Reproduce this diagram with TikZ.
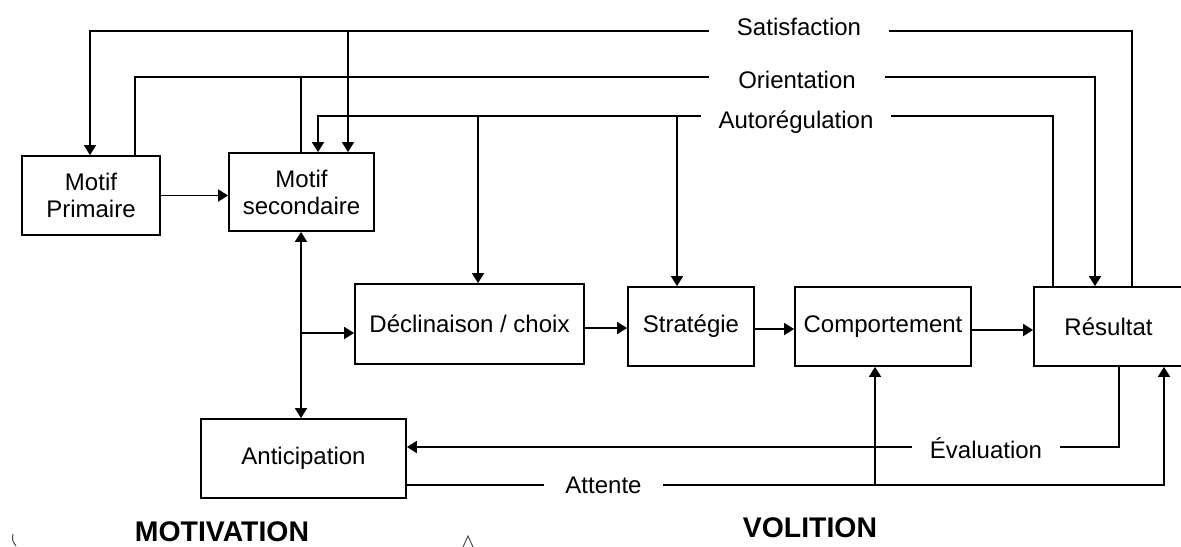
\documentclass[tikz,border=0pt]{standalone}
\usepackage{fontspec}
\setmainfont{Liberation Sans}
\usetikzlibrary{arrows.meta,calc}
\begin{document}
\begin{tikzpicture}[x=0.5pt,y=-0.5pt,
  box/.style={draw,line width=0.9pt,inner sep=0pt,align=center,font=\fontsize{12}{13.5}\selectfont},
  conn/.style={line width=0.9pt},
  arr/.style={conn,-{Triangle[length=5pt,width=6pt]}},
  darr/.style={conn,{Triangle[length=5pt,width=6pt]}-{Triangle[length=5pt,width=6pt]}},
  lbl/.style={fill=white,inner ysep=1pt,anchor=base,font=\fontsize{12}{13.5}\selectfont},
  ttl/.style={anchor=base,font=\fontsize{14.2}{17}\selectfont\bfseries}]
\useasboundingbox (0,0) rectangle (1181,546);
\clip (0,0) rectangle (1181,546);

% boxes
\node[box,minimum width=69pt,minimum height=39.5pt] (MP) at (91,195.5) {Motif\\Primaire};
\node[box,minimum width=72.5pt,minimum height=39pt] (MS) at (301.5,192) {Motif\\secondaire};
\node[box,minimum width=114.5pt,minimum height=40pt] (DC) at (469.5,324) {Déclinaison / choix};
\node[box,minimum width=63pt,minimum height=39.5pt] (ST) at (691,326.5) {Stratégie};
\node[box,minimum width=88pt,minimum height=39.5pt] (CO) at (883,326.5) {Comportement};
\node[box,minimum width=74.5pt,minimum height=39.5pt] (RE) at (1108.5,326.5) {Résultat};
\node[box,minimum width=102.5pt,minimum height=39.5pt] (AN) at (303.5,458.5) {Anticipation};

% routing coordinates
\coordinate (sR) at (1132,31); \coordinate (sMP) at (90,31); \coordinate (sMS) at (348,31);
\coordinate (oMP) at (135,77); \coordinate (oMS) at (301,77); \coordinate (oR) at (1095,77);
\coordinate (aR) at (1053,116); \coordinate (aMS) at (318,116);
\coordinate (aDC) at (478,116); \coordinate (aST) at (677,116);
\coordinate (v) at (301,333);
\coordinate (f1) at (0,328); \coordinate (f2) at (0,329); \coordinate (f3) at (0,330);
\coordinate (e) at (1119,447);
\coordinate (t) at (1164,485); \coordinate (tC) at (875,485);

% connectors
\draw[arr] (MP.east) -- (MP.east -| MS.west);
\draw[arr] (sR |- RE.north) -- (sR) -- (sMP) -- (sMP |- MP.north);
\draw[arr] (sMS) -- (sMS |- MS.north);
\draw[arr] (oMP |- MP.north) -- (oMP) -- (oR) -- (oR |- RE.north);
\draw[conn] (oMS |- MS.north) -- (oMS);
\draw[arr] (aR |- RE.north) -- (aR) -- (aMS) -- (aMS |- MS.north);
\draw[arr] (aDC) -- (aDC |- DC.north);
\draw[arr] (aST) -- (aST |- ST.north);
\draw[darr] (v |- MS.south) -- (v |- AN.north);
\draw[arr] (v) -- (v -| DC.west);
\draw[arr] (DC.east |- f1) -- (ST.west |- f1);
\draw[arr] (ST.east |- f2) -- (CO.west |- f2);
\draw[arr] (CO.east |- f3) -- (RE.west |- f3);
\draw[arr] (e |- RE.south) -- (e) -- (e -| AN.east);
\draw[arr] (t -| AN.east) -- (t) -- (t |- RE.south);
\draw[arr] (tC) -- (tC |- CO.south);

% labels
\node[lbl,inner xsep=14pt] (lsat) at (799,35) {Satisfaction};
\node[lbl,inner xsep=14.5pt] (lori) at (797,88) {Orientation};
\node[lbl,inner xsep=9pt] (laut) at (796,128) {Autorégulation};
\node[lbl,inner xsep=9pt] (leva) at (986,458) {Évaluation};
\node[lbl,inner xsep=10.5pt] (latt) at (603.5,493) {Attente};

\node[ttl] (mot) at (222,541) {MOTIVATION};
\node[ttl] (vol) at (810,537) {VOLITION};

% stray fragments at the bottom edge
\draw[line width=0.5pt,black!70] (13,534) .. controls (12,540) .. (16,546);
\draw[line width=0.5pt,black!70] (463,547) -- (468,536) -- (473,547);
\end{tikzpicture}
\end{document}
